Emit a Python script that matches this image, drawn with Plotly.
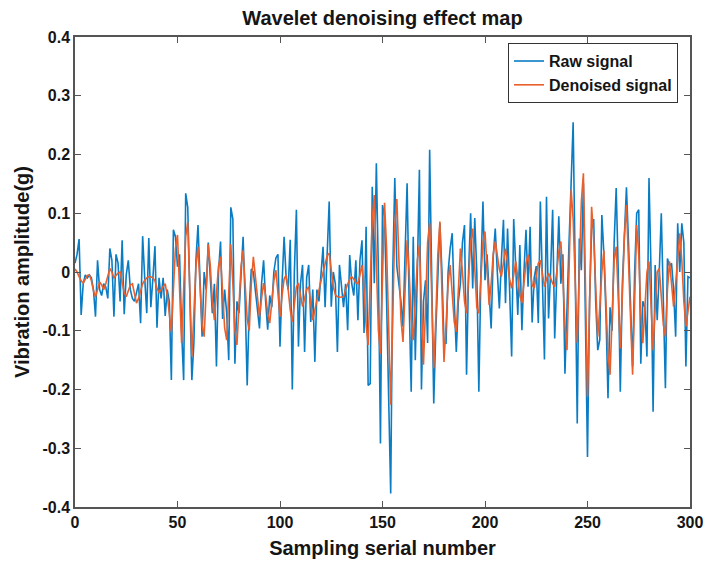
import plotly.graph_objects as go

sample_index = list(range(301))

raw_signal = [
    0.015, 0.03, 0.056, -0.073, -0.02, -0.005, -0.01, -0.005, -0.01, -0.03,
    -0.076, 0.02, -0.03, -0.04, -0.02, -0.025, -0.045, 0.04, 0.02, -0.076,
    0.03, 0.015, -0.05, 0.054, -0.072, -0.005, 0.02, -0.03, -0.045, -0.05,
    -0.035, -0.02, -0.087, 0.061, -0.01, -0.07, 0.058, -0.06, -0.01, 0.044,
    -0.095, -0.01, -0.045, -0.01, -0.075, -0.03, -0.05, -0.184, 0.072, 0.06,
    0.009, 0.03, -0.1, -0.184, 0.134, 0.11, -0.036, -0.184, -0.12, 0.02,
    0.08, -0.02, -0.11, 0.0, -0.03, 0.05, -0.02, -0.07, -0.02, -0.161,
    0.0, 0.052, -0.08, -0.03, -0.07, -0.15, 0.11, 0.09, -0.156, -0.05,
    -0.07, 0.0, 0.06, -0.05, -0.193, -0.06, 0.005, 0.0, -0.03, -0.06,
    -0.096, -0.02, 0.02, -0.05, -0.098, -0.04, -0.06, 0.0, 0.024, 0.03,
    -0.127, -0.02, 0.06, -0.01, -0.03, 0.055, -0.2, 0.0, 0.106, -0.127,
    -0.02, 0.012, -0.136, -0.01, 0.012, -0.085, -0.03, -0.153, -0.03, -0.05,
    0.0, 0.043, -0.06, 0.02, 0.12, -0.059, 0.0, -0.02, -0.136, 0.012,
    -0.03, -0.06, -0.02, -0.099, 0.029, -0.02, -0.04, 0.02, -0.082, 0.02,
    0.054, -0.104, 0.077, -0.193, -0.19, 0.145, -0.019, 0.185, 0.0, -0.292,
    0.114, 0.094, -0.05, -0.25, -0.377, 0.0, 0.16, 0.009, -0.02, -0.05,
    -0.093, 0.05, 0.151, -0.05, -0.204, 0.06, -0.15, 0.0, 0.174, -0.2,
    -0.05, -0.014, -0.121, 0.208, 0.0, -0.224, -0.1, 0.0, 0.083, 0.0,
    -0.121, -0.121, 0.0, 0.04, 0.066, -0.05, -0.136, -0.05, -0.02, 0.05,
    0.08, -0.175, 0.0, 0.1, -0.028, 0.092, 0.0, -0.204, 0.0, 0.12,
    -0.014, 0.03, -0.04, -0.096, 0.025, 0.074, 0.0, -0.062, 0.02, 0.089,
    -0.053, 0.074, -0.03, -0.144, 0.09, 0.0, -0.073, 0.046, -0.099, 0.0,
    0.072, -0.025, 0.077, -0.086, -0.01, 0.01, -0.087, 0.12, 0.0, -0.149,
    0.128, -0.079, 0.0, 0.106, -0.113, 0.0, 0.095, -0.02, 0.03, -0.173,
    -0.05, 0.05, 0.15, 0.255, 0.0, -0.258, 0.057, 0.003, 0.151, -0.1,
    -0.315, -0.05, 0.072, 0.09, -0.05, -0.133, -0.115, 0.097, 0.03, -0.07,
    -0.215, -0.06, -0.1, 0.05, 0.143, 0.0, -0.204, -0.02, 0.05, 0.144,
    0.05, -0.05, -0.161, 0.0, 0.1, 0.106, -0.156, -0.05, -0.06, -0.144,
    0.16, 0.0, -0.238, 0.012, -0.082, 0.0, 0.1, -0.05, -0.198, 0.023,
    0.01, 0.015, -0.03, -0.11, 0.083, 0.0, 0.083, 0.05, -0.161, -0.008,
    -0.01,
]

denoised_signal = [
    0.005, 0.0, -0.008, -0.015, -0.019, -0.012, -0.006, -0.005, -0.015, -0.032,
    -0.042, -0.03, -0.017, -0.022, -0.03, -0.02, -0.005, 0.006, 0.0, -0.01,
    -0.006, -0.002, 0.0, -0.015, -0.035, -0.042, -0.032, -0.022, -0.02, -0.04,
    -0.053, -0.045, -0.03, -0.02, -0.014, -0.01, -0.008, -0.008, -0.01, -0.015,
    -0.028, -0.035, -0.03, -0.024, -0.02, -0.04, -0.075, -0.102, -0.03, 0.04,
    0.063, -0.03, -0.121, -0.03, 0.06, 0.085, -0.04, -0.144, -0.07, 0.01,
    0.043, -0.03, -0.09, -0.11, -0.02, 0.047, 0.01, -0.05, -0.082, -0.03,
    0.01, 0.026, -0.04, -0.095, -0.116, -0.03, 0.047, -0.02, -0.1, -0.124,
    -0.06, 0.01, 0.037, -0.02, -0.08, -0.1, -0.02, 0.026, -0.01, -0.05,
    -0.076, -0.045, -0.019, -0.04, -0.07, -0.087, -0.05, -0.015, 0.003, -0.04,
    -0.076, -0.04, -0.012, -0.005, -0.03, -0.065, -0.085, -0.055, -0.025, -0.019,
    -0.04, -0.059, -0.045, -0.03, -0.025, -0.055, -0.082, -0.065, -0.045, -0.031,
    -0.015, 0.0, 0.015, 0.028, 0.032, 0.005, -0.025, -0.039, -0.042, -0.043,
    -0.043, -0.042, -0.03, -0.02, -0.012, -0.008, -0.012, -0.018, -0.02, -0.005,
    0.012, -0.03, -0.09, -0.124, -0.02, 0.09, 0.131, 0.02, -0.1, -0.139,
    0.0, 0.118, 0.04, -0.12, -0.226, -0.08, 0.08, 0.124, 0.02, -0.08,
    -0.119, -0.02, 0.054, 0.0, -0.08, -0.116, -0.04, 0.02, 0.046, -0.06,
    -0.158, -0.06, 0.05, 0.083, -0.04, -0.164, -0.08, 0.03, 0.086, -0.04,
    -0.153, -0.09, -0.02, 0.012, -0.04, -0.085, -0.102, -0.02, 0.04, 0.0,
    -0.05, -0.07, -0.01, 0.05, 0.074, 0.0, -0.06, -0.07, -0.01, 0.05,
    0.069, 0.0, -0.056, -0.02, 0.03, 0.052, 0.03, 0.005, -0.008, 0.02,
    0.04, 0.015, -0.012, -0.028, -0.005, 0.018, -0.01, -0.04, -0.053, -0.02,
    0.015, 0.029, 0.0, -0.022, -0.028, -0.005, 0.015, 0.02, 0.0, -0.025,
    -0.012, -0.002, -0.01, -0.02, -0.025, 0.0, 0.035, 0.052, -0.01, -0.09,
    -0.133, 0.02, 0.14, 0.09, -0.03, -0.121, 0.0, 0.12, 0.168, -0.03,
    -0.212, -0.06, 0.111, 0.06, -0.04, -0.11, -0.06, 0.0, 0.037, -0.05,
    -0.14, -0.175, -0.06, 0.02, 0.043, -0.04, -0.13, -0.04, 0.06, 0.114,
    0.02, -0.1, -0.175, -0.05, 0.08, 0.03, -0.07, -0.121, -0.06, 0.0,
    0.018, -0.06, -0.133, -0.06, 0.0, 0.006, -0.04, -0.09, -0.11, -0.03,
    0.018, -0.02, -0.059, -0.02, 0.03, 0.066, 0.02, -0.05, -0.093, -0.07,
    -0.042,
]

x_ticks = [0, 50, 100, 150, 200, 250, 300]
y_ticks = [-0.4, -0.3, -0.2, -0.1, 0, 0.1, 0.2, 0.3, 0.4]
y_tick_text = ["-0.4", "-0.3", "-0.2", "-0.1", "0", "0.1", "0.2", "0.3", "0.4"]

FONT = "Liberation Sans, Arial, sans-serif"
TXT = "#151515"

fig = go.Figure()
fig.add_trace(go.Scatter(x=sample_index, y=raw_signal, mode="lines",
                         name="Raw signal",
                         line=dict(color="#0a7cc4", width=1.6)))
fig.add_trace(go.Scatter(x=sample_index, y=denoised_signal, mode="lines",
                         name="Denoised signal",
                         line=dict(color="#e9602c", width=1.6)))

axis_common = dict(
    showgrid=False, zeroline=False, showline=True, linecolor="#555555",
    linewidth=1.5, mirror="ticks", ticks="inside", ticklen=6,
    tickcolor="#555555", tickwidth=1, automargin=False,
    tickfont=dict(family=FONT, size=16, color=TXT, weight="bold"),
)

fig.update_layout(
    width=704, height=563,
    margin=dict(l=75, r=14, t=37, b=56, autoexpand=False),
    paper_bgcolor="white", plot_bgcolor="white",
    title=dict(text="Wavelet denoising effect map", x=0.5, xref="paper",
               y=1 - 18 / 563, yanchor="middle",
               font=dict(family=FONT, size=20, color=TXT, weight="bold")),
    xaxis=dict(range=[0, 300], tickvals=x_ticks,
               title=dict(text="Sampling serial number", standoff=11,
                          font=dict(family=FONT, size=20, color=TXT, weight="bold")),
               **axis_common),
    yaxis=dict(range=[-0.4, 0.4], tickvals=y_ticks, ticktext=y_tick_text,
               title=dict(text="Vibration amplitude(g)", standoff=7,
                          font=dict(family=FONT, size=20, color=TXT, weight="bold")),
               **axis_common),
    legend=dict(x=0.9805, xanchor="right", y=0.987, yanchor="top",
                bgcolor="white", bordercolor="#333333", borderwidth=1,
                font=dict(family=FONT, size=16, color=TXT, weight="bold"),
                tracegroupgap=0, itemwidth=30),
    showlegend=True,
)

fig.write_html("out.html")
